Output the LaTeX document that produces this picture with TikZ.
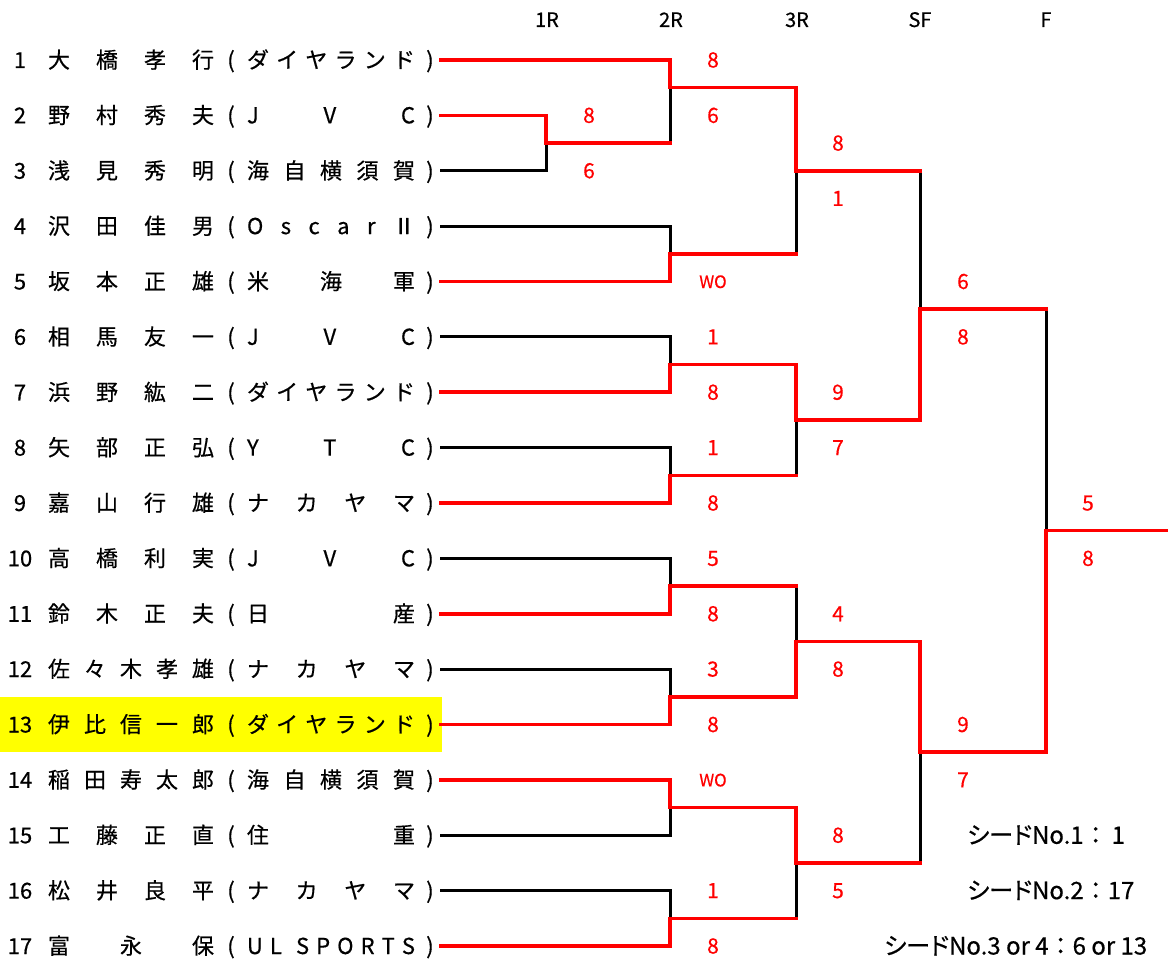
\documentclass[tikz,border=0pt]{standalone}
\usepackage{fontspec}
\setmainfont[FakeBold=0.5]{Noto Sans CJK JP}
\newfontfamily\pfont[RawFeature=+palt,FakeBold=0.5]{Noto Sans CJK JP}
\definecolor{wred}{RGB}{255,0,0}
\definecolor{hly}{RGB}{255,255,0}
\tikzset{
  win/.style={draw=wred,line width=3.6pt,line cap=rect},
  lose/.style={draw=black,line width=3pt,line cap=rect},
  rowtxt/.style={inner sep=0,anchor=base,font=\fontsize{22}{22}\selectfont},
  score/.style={inner sep=0,anchor=base,text=wred,font=\fontsize{21}{21}\selectfont},
  wo/.style={inner sep=0,anchor=base,text=wred,font=\fontsize{17}{17}\selectfont},
  head/.style={inner sep=0,anchor=base,font=\fontsize{20}{20}\selectfont},
  seed/.style={inner sep=0,anchor=base west,font=\fontsize{24}{24}\selectfont},
}
\newcommand\RY[1]{60+55.375*(#1-1)}
\newcommand\SD{{\pfont シード}}
\begin{document}
\begin{tikzpicture}[x=1pt,y=-1pt]
\useasboundingbox (0,0) rectangle (1168,960);
\fill[hly] (0,697) rectangle (442,752);
% headers
\node[head] (h1) at (547,27) {1R};
\node[head] (h2) at (671,27) {2R};
\node[head] (h3) at (797,27) {3R};
\node[head] (h4) at (920,27) {SF};
\node[head] (h5) at (1046,27) {F};
% rows
\foreach \i/\nm/\tm in {
 1/{大\hfill 橋\hfill 孝\hfill 行}/{ダ\hfill イ\hfill ヤ\hfill ラ\hfill ン\hfill ド},
 2/{野\hfill 村\hfill 秀\hfill 夫}/{J\hfill V\hfill C},
 3/{浅\hfill 見\hfill 秀\hfill 明}/{海\hfill 自\hfill 横\hfill 須\hfill 賀},
 4/{沢\hfill 田\hfill 佳\hfill 男}/{O\hfill s\hfill c\hfill a\hfill r\hfill Ⅱ},
 5/{坂\hfill 本\hfill 正\hfill 雄}/{米\hfill 海\hfill 軍},
 6/{相\hfill 馬\hfill 友\hfill 一}/{J\hfill V\hfill C},
 7/{浜\hfill 野\hfill 紘\hfill 二}/{ダ\hfill イ\hfill ヤ\hfill ラ\hfill ン\hfill ド},
 8/{矢\hfill 部\hfill 正\hfill 弘}/{Y\hfill T\hfill C},
 9/{嘉\hfill 山\hfill 行\hfill 雄}/{ナ\hfill カ\hfill ヤ\hfill マ},
 10/{高\hfill 橋\hfill 利\hfill 実}/{J\hfill V\hfill C},
 11/{鈴\hfill 木\hfill 正\hfill 夫}/{日\hfill 産},
 12/{佐\hfill 々\hfill 木\hfill 孝\hfill 雄}/{ナ\hfill カ\hfill ヤ\hfill マ},
 13/{伊\hfill 比\hfill 信\hfill 一\hfill 郎}/{ダ\hfill イ\hfill ヤ\hfill ラ\hfill ン\hfill ド},
 14/{稲\hfill 田\hfill 寿\hfill 太\hfill 郎}/{海\hfill 自\hfill 横\hfill 須\hfill 賀},
 15/{工\hfill 藤\hfill 正\hfill 直}/{住\hfill 重},
 16/{松\hfill 井\hfill 良\hfill 平}/{ナ\hfill カ\hfill ヤ\hfill マ},
 17/{富\hfill 永\hfill 保}/{U\hfill L\hfill\hbox{}\hfill S\hfill P\hfill O\hfill R\hfill T\hfill S}}{
  \pgfmathsetmacro\yy{\RY{\i}}
  \node[rowtxt] (num\i) at (20,\yy+8) {\i};
  \node[rowtxt] (name\i) at (131,\yy+8) {\makebox[166pt]{\nm}};
  \node[rowtxt] (lp\i) at (231,\yy+8) {(};
  \node[rowtxt] (team\i) at (331,\yy+8) {\makebox[168pt]{\tm}};
  \node[rowtxt] (rp\i) at (430,\yy+8) {)};
  \coordinate (p\i) at (441,\yy);
}
% junctions
\coordinate (a23) at (546,{\RY{2.5}});
\coordinate (b1) at (670,{\RY{1.5}});
\coordinate (b2) at (670,{\RY{4.5}});
\coordinate (b3) at (670,{\RY{6.5}});
\coordinate (b4) at (670,{\RY{8.5}});
\coordinate (b5) at (670,{\RY{10.5}});
\coordinate (b6) at (670,{\RY{12.5}});
\coordinate (b7) at (670,{\RY{14.5}});
\coordinate (b8) at (670,{\RY{16.5}});
\coordinate (c1) at (796,{\RY{3}});
\coordinate (c2) at (796,{\RY{7.5}});
\coordinate (c3) at (796,{\RY{11.5}});
\coordinate (c4) at (796,{\RY{15.5}});
\coordinate (d1) at (920,{\RY{5.5}});
\coordinate (d2) at (920,{\RY{13.5}});
\coordinate (f) at (1046,{\RY{9.5}});
\coordinate (champ) at (1168,{\RY{9.5}});
% losers (black)
\draw[lose] (p3) -| (a23);
\draw[lose] (p4) -| (b2);
\draw[lose] (p6) -| (b3);
\draw[lose] (p8) -| (b4);
\draw[lose] (p10) -| (b5);
\draw[lose] (p12) -| (b6);
\draw[lose] (p15) -| (b7);
\draw[lose] (p16) -| (b8);
\draw[lose] (a23 -| b1) -- (b1);
\draw[lose] (b2 -| c1) -- (c1);
\draw[lose] (b4 -| c2) -- (c2);
\draw[lose] (b5 -| c3) -- (c3);
\draw[lose] (b8 -| c4) -- (c4);
\draw[lose] (c1 -| d1) -- (d1);
\draw[lose] (c4 -| d2) -- (d2);
\draw[lose] (d1 -| f) -- (f);
% winners (red)
\draw[win] (p1) -| (b1);
\draw[win] (p2) -| (a23);
\draw[win] (p5) -| (b2);
\draw[win] (p7) -| (b3);
\draw[win] (p9) -| (b4);
\draw[win] (p11) -| (b5);
\draw[win] (p13) -| (b6);
\draw[win] (p14) -| (b7);
\draw[win] (p17) -| (b8);
\draw[win] (a23) -- (a23 -| b1);
\draw[win] (b2) -- (b2 -| c1);
\draw[win] (b4) -- (b4 -| c2);
\draw[win] (b5) -- (b5 -| c3);
\draw[win] (b8) -- (b8 -| c4);
\draw[win] (c1) -- (c1 -| d1);
\draw[win] (c4) -- (c4 -| d2);
\draw[win] (d1) -- (d1 -| f);
\draw[win] (b1) -| (c1);
\draw[win] (b3) -| (c2);
\draw[win] (b6) -| (c3);
\draw[win] (b7) -| (c4);
\draw[win] (c2) -| (d1);
\draw[win] (c3) -| (d2);
\draw[win] (d2) -| (f);
\draw[win] (f) -- (champ);
% scores
\foreach \nm/\x/\r/\t in {
 s1/589/2/8, s2/589/3/6,
 s3/713/1/8, s4/713/2/6, s5/713/6/1, s6/713/7/8, s7/713/8/1, s8/713/9/8,
 s9/713/10/5, s10/713/11/8, s11/713/12/3, s12/713/13/8, s13/713/16/1, s14/713/17/8,
 s15/838/2.5/8, s16/838/3.5/1, s17/838/7/9, s18/838/8/7, s19/838/11/4, s20/838/12/8,
 s21/838/15/8, s22/838/16/5,
 s23/963/5/6, s24/963/6/8, s25/963/13/9, s26/963/14/7,
 s27/1088/9/5, s28/1088/10/8}{
  \pgfmathsetmacro\yy{\RY{\r}}
  \node[score] (\nm) at (\x,\yy+7.5) {\t};
}
\node[wo] (wo1) at (713,{\RY{5}+6.5}) {WO};
\node[wo] (wo2) at (713,{\RY{14}+6.5}) {WO};
% seed notes
\node[seed] (seed1) at (967,{\RY{15}+8.5}) {\SD No.1：\,1};
\node[seed] (seed2) at (967,{\RY{16}+8.5}) {\SD No.2：17};
\node[seed] (seed3) at (884,{\RY{17}+8.5}) {\SD No.3 or 4：6 or 13};
\end{tikzpicture}
\end{document}
